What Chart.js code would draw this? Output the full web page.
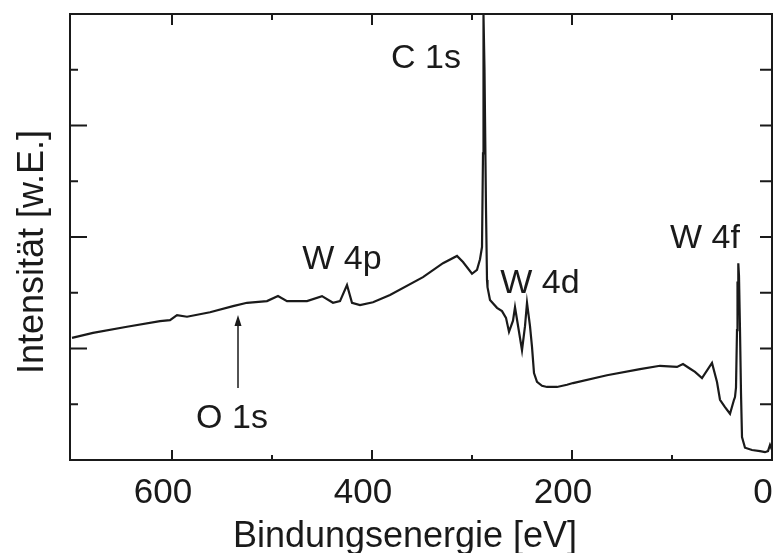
<!DOCTYPE html>
<html>
<head>
<meta charset="utf-8">
<script src="https://cdn.jsdelivr.net/npm/chart.js@4.4.1/dist/chart.umd.min.js"></script>
<style>
  html, body { margin: 0; padding: 0; background: #fff; }
</style>
</head>
<body>
<canvas id="xpsChart" width="776" height="553"></canvas>
<script>
// XPS survey spectrum (W with carbon film)
const energy = [
  700, 679, 645, 612, 602, 595, 585, 562, 539, 525, 505, 494, 485, 465,
  450, 439, 432, 425, 420, 412, 399, 382, 349, 329, 315, 309, 300, 295,
  292, 290, 289, 288.5, 287.5, 286, 285, 284.5, 282, 275, 270, 266, 263,
  259, 257, 253, 250, 247, 245, 242, 240, 238, 235, 230, 225, 215, 205,
  199, 165, 132, 112, 95, 89, 83, 77, 70, 60, 55, 52, 47, 42, 38, 37,
  36, 35, 34.5, 34, 33.7, 33, 32, 31, 30, 27, 20, 12, 7, 4, 2, 0
];
const intensity = [
  2.19, 2.28, 2.39, 2.49, 2.51, 2.60, 2.57, 2.65, 2.76, 2.82, 2.85, 2.94, 2.85, 2.85,
  2.94, 2.82, 2.85, 3.14, 2.82, 2.78, 2.83, 2.96, 3.28, 3.53, 3.66, 3.55, 3.34, 3.41,
  3.60, 3.82, 5.50, 7.98, 7.00, 4.50, 3.23, 3.10, 2.87, 2.73, 2.67, 2.55, 2.30,
  2.50, 2.74, 2.30, 1.97, 2.40, 2.82, 2.40, 2.03, 1.56, 1.40, 1.33, 1.31, 1.31, 1.35,
  1.38, 1.52, 1.63, 1.69, 1.67, 1.72, 1.65, 1.58, 1.47, 1.74, 1.40, 1.08, 0.95, 0.83, 1.08, 1.13,
  1.30, 2.33, 3.20, 2.90, 3.53, 3.30, 2.33, 1.20, 0.41, 0.22, 0.18, 0.16, 0.14, 0.16, 0.27, 0.18
];
const xTickValues = [600, 400, 200, 0];
const peakNames = ['C 1s', 'W 4p', 'W 4d', 'W 4f', 'O 1s'];
const xTitle = 'Bindungsenergie [eV]';
const yTitle = 'Intensität [w.E.]';

const FONT = '"Liberation Sans", Arial, sans-serif';
const INK = '#1a1a1a';

// where each peak name sits, in data units (eV, intensity)
const labelSpots = [[346, 7.03], [430, 3.43], [232, 3.0], [67, 3.8], [540, 0.57]];

// box frame with inward ticks, axis titles, peak names and the O 1s arrow
const framePlugin = {
  id: 'frame',
  afterDatasetsDraw(chart) {
    const { ctx, chartArea: a, scales: { x, y } } = chart;
    ctx.save();
    ctx.strokeStyle = INK;
    ctx.lineWidth = 2;
    ctx.strokeRect(a.left, a.top, a.right - a.left, a.bottom - a.top);

    ctx.beginPath();
    for (let v = 100; v < 700; v += 100) {
      const px = x.getPixelForValue(v);
      const major = v % 200 === 0;
      ctx.moveTo(px, a.bottom); ctx.lineTo(px, a.bottom - (major ? 10 : 5));
      ctx.moveTo(px, a.top); ctx.lineTo(px, a.top + (major ? 11 : 6));
    }
    for (let v = 1; v < 8; v++) {
      const py = y.getPixelForValue(v);
      ctx.moveTo(a.left, py); ctx.lineTo(a.left + (v % 2 === 0 ? 17 : 8), py);
      ctx.moveTo(a.right, py); ctx.lineTo(a.right - 12, py);
    }
    ctx.stroke();

    ctx.fillStyle = INK;
    ctx.textAlign = 'center';
    ctx.textBaseline = 'alphabetic';

    // axis titles (the scan has them a little off-centre)
    ctx.font = '36px ' + FONT;
    ctx.fillText(xTitle, a.left + 335, a.bottom + 87);
    ctx.save();
    ctx.translate(a.left - 27, a.top + 238);
    ctx.rotate(-Math.PI / 2);
    ctx.fillText(yTitle, 0, 0);
    ctx.restore();

    ctx.font = '34px ' + FONT;
    peakNames.forEach((name, i) => {
      ctx.fillText(name, x.getPixelForValue(labelSpots[i][0]), y.getPixelForValue(labelSpots[i][1]));
    });

    // arrow pointing at the (missing) O 1s line
    const ax = x.getPixelForValue(534);
    const y0 = y.getPixelForValue(1.29);
    const tip = y.getPixelForValue(2.6);
    ctx.lineWidth = 1.5;
    ctx.beginPath();
    ctx.moveTo(ax, y0); ctx.lineTo(ax, tip + 8);
    ctx.stroke();
    ctx.beginPath();
    ctx.moveTo(ax, tip); ctx.lineTo(ax - 3.5, tip + 11); ctx.lineTo(ax + 3.5, tip + 11);
    ctx.closePath();
    ctx.fill();
    ctx.restore();
  }
};

new Chart(document.getElementById('xpsChart'), {
  type: 'scatter',
  data: {
    datasets: [{
      data: energy.map((e, i) => ({ x: e, y: intensity[i] })),
      showLine: true,
      borderColor: INK,
      borderWidth: 2.2,
      pointRadius: 0,
      tension: 0
    }]
  },
  options: {
    responsive: false,
    animation: false,
    layout: { padding: { top: 14, right: 4, left: 0, bottom: 0 } },
    plugins: { legend: { display: false }, tooltip: { enabled: false } },
    scales: {
      x: {
        type: 'linear',
        reverse: true,
        min: 0,
        max: 702,
        afterBuildTicks(s) { s.ticks = xTickValues.map(v => ({ value: v })); },
        grid: { display: false, drawTicks: false },
        border: { display: false },
        ticks: {
          padding: 12,
          labelOffset: -9,
          maxRotation: 0,
          color: INK,
          font: { family: FONT, size: 35 }
        },
        afterFit(s) { s.height = 93; s.paddingLeft = 0; s.paddingRight = 0; }
      },
      y: {
        min: 0,
        max: 8,
        grid: { display: false, drawTicks: false },
        border: { display: false },
        ticks: { display: false, stepSize: 1 },
        afterFit(s) { s.width = 70; s.paddingTop = 0; s.paddingBottom = 0; }
      }
    }
  },
  plugins: [framePlugin]
});
</script>
</body>
</html>
